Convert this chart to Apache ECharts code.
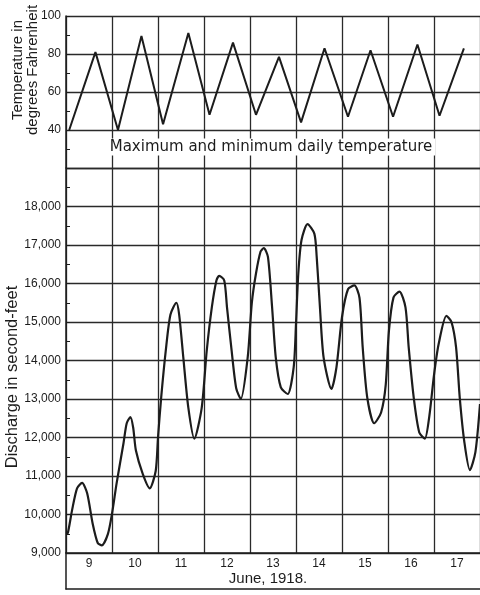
<!DOCTYPE html>
<html>
<head>
<meta charset="utf-8">
<script src="https://cdn.jsdelivr.net/npm/echarts@6/dist/echarts.min.js"></script>
<style>
html,body{margin:0;padding:0;background:#fff;}
#c{width:480px;height:595px;}
</style>
</head>
<body>
<div id="c"></div>
<script>
// Day labels (June 1918)
const days = ['9','10','11','12','13','14','15','16','17'];

// Maximum / minimum daily temperature (°F) at day-time positions
const tempDay = [9.07, 9.64, 10.13, 10.64, 11.11, 11.66, 12.12, 12.63, 13.13, 13.63, 14.11, 14.62, 15.13, 15.62, 16.11, 16.64, 17.12, 17.65];
const tempF   = [40,   81,   40,    89.5,  43,    91,    48,    86,    48,    78.5,  44,    83,    47,    82,    47,    85,    47.5,  83];

// Discharge (second-feet) at day-time positions
const flowDay = [9.00, 9.04, 9.13, 9.24, 9.35, 9.46, 9.58, 9.69, 9.78, 9.91,
                 10.00, 10.10, 10.25, 10.32, 10.40, 10.46, 10.52, 10.67, 10.82, 10.95,
                 11.00, 11.07, 11.17, 11.27, 11.40, 11.46, 11.55, 11.66, 11.79, 11.95,
                 12.06, 12.17, 12.27, 12.33, 12.44, 12.50, 12.60, 12.70, 12.80, 12.95,
                 13.04, 13.13, 13.23, 13.30, 13.39, 13.48, 13.56, 13.67, 13.82, 13.95,
                 14.00, 14.05, 14.12, 14.25, 14.40, 14.45, 14.52, 14.60, 14.77, 14.88,
                 15.00, 15.13, 15.27, 15.38, 15.45, 15.55, 15.70, 15.85, 15.95,
                 16.02, 16.12, 16.25, 16.38, 16.45, 16.56, 16.68, 16.80, 16.90,
                 17.00, 17.10, 17.27, 17.38, 17.48, 17.56, 17.66, 17.78, 17.90, 18.00];
const flowCfs = [9500, 9520, 10100, 10680, 10820, 10550, 9760, 9260, 9200, 9490,
                 10020, 10810, 11850, 12370, 12530, 12260, 11660, 11050, 10680, 11130,
                 12000, 13050, 14270, 15190, 15500, 15190, 14080, 12770, 11970, 12770,
                 14260, 15380, 16080, 16200, 16080, 15380, 14260, 13280, 13000, 14080,
                 15500, 16260, 16830, 16920, 16690, 15390, 14080, 13300, 13130, 13830,
                 14950, 16260, 17130, 17540, 17290, 16690, 15390, 14080, 13260, 13830,
                 15130, 15850, 15950, 15630, 14340, 13030, 12370, 12650, 13360,
                 14770, 15640, 15790, 15380, 14340, 13030, 12130, 11970, 12570,
                 13620, 14420, 15160, 15000, 14340, 13030, 11880, 11150, 11620, 12870];

const INK = '#1c1c1c';
const FONT = 'Liberation Sans';

const chart = echarts.init(document.getElementById('c'), null, {renderer: 'canvas'});

const gridLine = {show: true, lineStyle: {color: '#2a2a2a', width: 1.3}};

const option = {
  backgroundColor: '#ffffff',
  animation: false,
  textStyle: {fontFamily: FONT, color: INK},
  grid: [
    {left: 66, right: 0, top: 16, height: 152},
    {left: 66, right: 0, top: 168, height: 385},
    {left: 66, right: 0, top: 553, height: 36}
  ],
  xAxis: [
    {gridIndex: 0, type: 'value', min: 9, max: 18, interval: 1,
     axisLine: {show: false}, axisTick: {show: false}, axisLabel: {show: false},
     splitLine: gridLine},
    {gridIndex: 1, type: 'value', min: 9, max: 18, interval: 1,
     axisLine: {show: true, lineStyle: {color: INK, width: 1.5}}, axisTick: {show: false}, axisLabel: {show: false},
     splitLine: gridLine},
    {gridIndex: 1, type: 'category', data: days, boundaryGap: true, position: 'bottom',
     axisLine: {show: false}, axisTick: {show: false},
     axisLabel: {margin: 5, fontSize: 12, color: INK, fontFamily: FONT},
     splitLine: {show: false}},
    {gridIndex: 2, type: 'value', min: 0, max: 1,
     axisLine: {show: true, lineStyle: {color: INK, width: 1.5}}, axisTick: {show: false}, axisLabel: {show: false},
     splitLine: {show: false}}
  ],
  yAxis: [
    {gridIndex: 0, type: 'value', min: 20, max: 100, interval: 20,
     axisLine: {show: true, lineStyle: {color: INK, width: 1.5}},
     axisTick: {show: true, inside: true, length: 4, lineStyle: {color: INK}},
     minorTick: {show: true, splitNumber: 2, length: 4, lineStyle: {color: INK, width: 1}},
     axisLabel: {margin: 5, fontSize: 12, color: INK, fontFamily: FONT,
       formatter: v => (v === 20 ? '' : String(v))},
     splitLine: gridLine},
    {gridIndex: 1, type: 'value', min: 9000, max: 19000, interval: 1000,
     axisLine: {show: true, lineStyle: {color: INK, width: 1.5}},
     axisTick: {show: true, inside: true, length: 4, lineStyle: {color: INK}},
     minorTick: {show: true, splitNumber: 2, length: 4, lineStyle: {color: INK, width: 1}},
     axisLabel: {margin: 5, fontSize: 12, color: INK, fontFamily: FONT,
       formatter: v => (v === 19000 ? '' : (Math.floor(v / 1000) + ',000'))},
     splitLine: gridLine},
    {gridIndex: 2, type: 'value', min: 0, max: 1,
     axisLine: {show: true, lineStyle: {color: INK, width: 1.5}},
     axisTick: {show: false}, axisLabel: {show: false}, splitLine: {show: false}}
  ],
  series: [
    {type: 'line', xAxisIndex: 0, yAxisIndex: 0, symbol: 'none', smooth: false,
     lineStyle: {color: INK, width: 2}, z: 5,
     data: tempDay.map((d, i) => [d, tempF[i]])},
    {type: 'line', xAxisIndex: 1, yAxisIndex: 1, symbol: 'none', smooth: 0.25,
     lineStyle: {color: INK, width: 2.2}, z: 5,
     data: flowDay.map((d, i) => [d, flowCfs[i]])}
  ],
  graphic: [
    {type: 'text', x: 271, y: 147, z: 10,
     style: {text: 'Maximum and minimum daily temperature', font: '15px "DejaVu Sans"',
       fill: INK, align: 'center', verticalAlign: 'middle',
       backgroundColor: '#ffffff', padding: [1, 3]}},
    {type: 'text', x: 25, y: 70, rotation: Math.PI / 2, z: 10,
     style: {text: 'Temperature in\ndegrees Fahrenheit', font: '15px "Liberation Sans"',
       fill: INK, align: 'center', verticalAlign: 'middle', lineHeight: 15}},
    {type: 'text', x: 12, y: 377, rotation: Math.PI / 2, z: 10,
     style: {text: 'Discharge in second-feet', font: '16.5px "Liberation Sans"',
       fill: INK, align: 'center', verticalAlign: 'middle'}},
    {type: 'text', x: 268, y: 579, z: 10,
     style: {text: 'June, 1918.', font: '15px "Liberation Sans"',
       fill: INK, align: 'center', verticalAlign: 'middle'}}
  ]
};
chart.setOption(option);
</script>
</body>
</html>
